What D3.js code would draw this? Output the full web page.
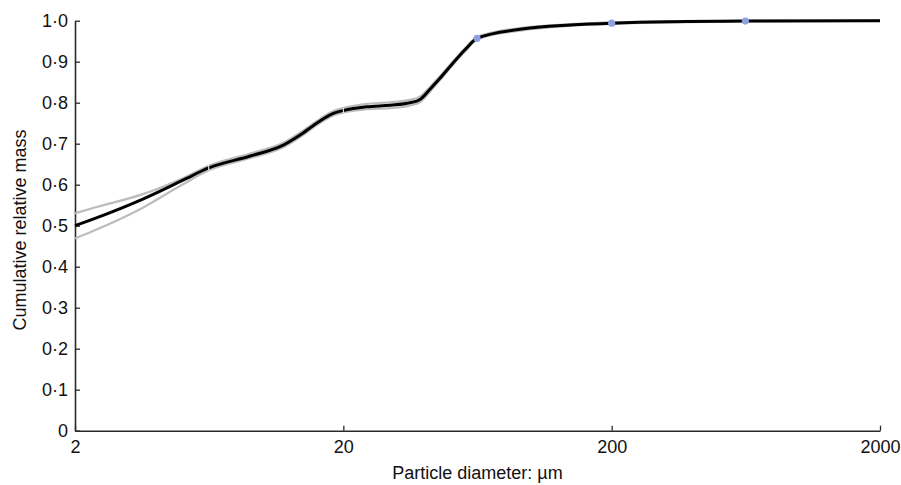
<!DOCTYPE html>
<html><head><meta charset="utf-8">
<script src="https://cdn.jsdelivr.net/npm/d3@7"></script>
<style>body{margin:0;background:#fff}</style>
</head><body>
<svg id="chart" width="901" height="485"></svg>
<script>
// Particle diameter (µm) and cumulative relative mass
const diameters = [2, 2.334, 3.58, 5.05, 6.3, 9, 12, 13.8, 15.9, 18.35, 20, 24.4, 29.9, 35.4, 38.6, 42.1, 45.9, 51.3, 56.8, 63, 91.1, 140, 200, 630, 2000];
const meanMass  = [0.500, 0.516, 0.565, 0.611, 0.641, 0.670, 0.697, 0.721, 0.750, 0.774, 0.781, 0.790, 0.794, 0.800, 0.808, 0.833, 0.860, 0.897, 0.929, 0.957, 0.979, 0.9895, 0.994, 0.999, 1.000];
const upperMass = [0.530, 0.543, 0.577, 0.616, 0.646, 0.676, 0.703, 0.727, 0.755, 0.780, 0.787, 0.797, 0.801, 0.807, 0.815, 0.839, 0.865, 0.901, 0.933, 0.960, 0.982, 0.9915, 0.996, 1.000, 1.000];
const lowerMass = [0.469, 0.487, 0.544, 0.601, 0.635, 0.665, 0.692, 0.716, 0.745, 0.769, 0.776, 0.784, 0.787, 0.793, 0.801, 0.827, 0.855, 0.893, 0.925, 0.954, 0.976, 0.9875, 0.992, 0.998, 1.000];
const sieveSizes = [63, 200, 630];
const sieveMass  = [0.957, 0.994, 0.999];
const markSizes = [6.3, 20];
const markMass  = [0.641, 0.781];
const xTicks = [2, 20, 200, 2000];
const yTicks = [0, 0.1, 0.2, 0.3, 0.4, 0.5, 0.6, 0.7, 0.8, 0.9, 1.0];
const xTitle = "Particle diameter: µm";
const yTitle = "Cumulative relative mass";

const svg = d3.select("#chart");
const font = "'Liberation Sans', Arial, Helvetica, sans-serif";
const mLeft = 75, mRight = 880, mTop = 20.7, mBottom = 430.7;

const x = d3.scaleLog().domain([2, 2000]).range([mLeft, mRight]);
const y = d3.scaleLinear().domain([0, 1]).range([mBottom, mTop]);

const fmt = v => v === 0 ? "0" : v.toFixed(1).replace(".", "\u00B7");

const xAxis = svg.append("g").attr("transform", `translate(0,${mBottom})`)
  .call(d3.axisBottom(x).tickValues(xTicks).tickFormat(d3.format("d"))
    .tickSizeInner(-5).tickSizeOuter(0).tickPadding(9.5));
const yAxis = svg.append("g").attr("transform", `translate(${mLeft},0)`)
  .call(d3.axisLeft(y).tickValues(yTicks).tickFormat(fmt)
    .tickSizeInner(-5).tickSizeOuter(0).tickPadding(7));

[xAxis, yAxis].forEach(g => {
  g.select(".domain").attr("stroke", "#2a2a2a").attr("stroke-width", 1.6);
  g.selectAll(".tick line").attr("stroke", "#2a2a2a").attr("stroke-width", 1.3);
  g.selectAll("text").attr("font-family", font).attr("font-size", 18).attr("fill", "#111");
});

const pts = arr => diameters.map((d, i) => [d, arr[i]]);
const line = d3.line().x(p => x(p[0])).y(p => y(p[1])).curve(d3.curveMonotoneX);

svg.append("path").datum(pts(upperMass)).attr("d", line)
  .attr("fill", "none").attr("stroke", "#bcbcbc").attr("stroke-width", 2.2);
svg.append("path").datum(pts(lowerMass)).attr("d", line)
  .attr("fill", "none").attr("stroke", "#bcbcbc").attr("stroke-width", 2.2);
svg.append("path").datum(pts(meanMass)).attr("d", line)
  .attr("fill", "none").attr("stroke", "#000").attr("stroke-width", 3);

svg.selectAll(".mark").data(markSizes).enter().append("line")
  .attr("x1", d => x(d)).attr("x2", d => x(d))
  .attr("y1", (d, i) => y(markMass[i]) - 2.5).attr("y2", (d, i) => y(markMass[i]) + 2.5)
  .attr("stroke", "#fff").attr("stroke-width", 1);

svg.selectAll(".dot").data(sieveSizes).enter().append("circle")
  .attr("cx", d => x(d)).attr("cy", (d, i) => y(sieveMass[i]))
  .attr("r", 3.6).attr("fill", "#8ea1dc");

svg.append("text").attr("x", (mLeft + mRight) / 2).attr("y", 479)
  .attr("text-anchor", "middle").attr("font-family", font).attr("font-size", 18)
  .attr("fill", "#111").text(xTitle);
svg.append("text").attr("transform", `translate(26,230) rotate(-90)`)
  .attr("text-anchor", "middle").attr("font-family", font).attr("font-size", 18)
  .attr("fill", "#111").text(yTitle);
</script>
</body></html>
